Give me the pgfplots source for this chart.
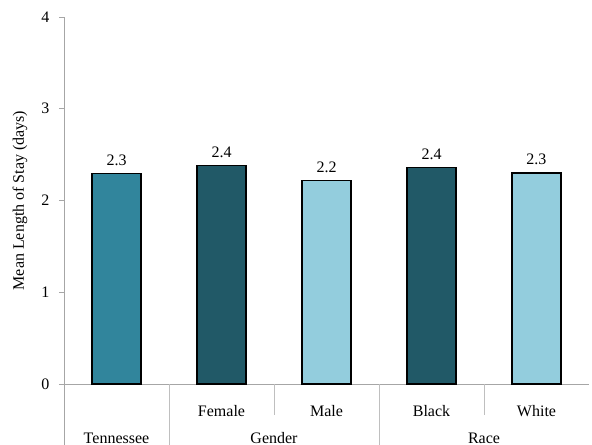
\documentclass[border=0pt]{standalone}
\usepackage{pgfplots}
\pgfplotsset{compat=1.18}
\usepackage{fontspec}
\setmainfont{Liberation Serif}
\definecolor{barmid}{HTML}{31859C}
\definecolor{bardark}{HTML}{215967}
\definecolor{barlight}{HTML}{93CDDD}
\definecolor{axgray}{HTML}{A6A6A6}
\definecolor{sepgray}{HTML}{BFBFBF}
\begin{document}
\begin{tikzpicture}
\useasboundingbox (0,0) rectangle (592bp,445bp);
\begin{axis}[
  at={(64bp,61bp)}, anchor=south west,
  scale only axis, width=525bp, height=367bp,
  xmin=0, xmax=5, ymin=0, ymax=4,
  axis x line*=bottom, axis y line*=left,
  axis line style={draw=axgray, line width=0.8bp},
  ytick={0,1,2,3,4},
  tick align=outside, major tick length=5bp,
  ytick style={draw=axgray, line width=0.8bp},
  xtick={0.5,1.5,2.5,3.5,4.5},
  xticklabels={,Female,Male,Black,White},
  xtick style={draw=none},
  xticklabel style={anchor=base, yshift=-27bp},
  font=\fontsize{16bp}{19bp}\selectfont,
  /pgf/number format/assume math mode=true,
  yticklabel style={xshift=-6bp},
  ylabel={Mean Length of Stay (days)},
  every axis y label/.style={at={(axis description cs:0,0.5)}, xshift=-44bp, rotate=90, anchor=center},
  clip=false,
  ybar, bar width=0.467, bar shift=0pt,
  nodes near coords,
  nodes near coords style={/pgf/number format/.cd, fixed, fixed zerofill, precision=1, /tikz/.cd, yshift=4bp},
  every node near coord/.append style={font=\fontsize{16bp}{19bp}\selectfont, black},
]
\addplot[fill=barmid, draw=black, line width=1.2bp] coordinates {(0.5,2.29)};
\addplot[fill=bardark, draw=black, line width=1.2bp] coordinates {(1.5,2.38) (3.5,2.36)};
\addplot[fill=barlight, draw=black, line width=1.2bp] coordinates {(2.5,2.22) (4.5,2.30)};
\draw[axgray, line width=0.8bp] (axis cs:0,0) -- ++(0,-61bp);
\draw[sepgray, line width=0.8bp] (axis cs:1,0) -- ++(0,-61bp);
\draw[sepgray, line width=0.8bp] (axis cs:3,0) -- ++(0,-61bp);
\draw[sepgray, line width=0.8bp] (axis cs:2,0) -- ++(0,-31bp);
\draw[sepgray, line width=0.8bp] (axis cs:4,0) -- ++(0,-31bp);
\node[anchor=base] at ([yshift=-59bp]axis cs:0.5,0) {Tennessee};
\node[anchor=base] at ([yshift=-59bp]axis cs:2,0) {Gender};
\node[anchor=base] at ([yshift=-59bp]axis cs:4,0) {Race};
\end{axis}
\end{tikzpicture}
\end{document}
